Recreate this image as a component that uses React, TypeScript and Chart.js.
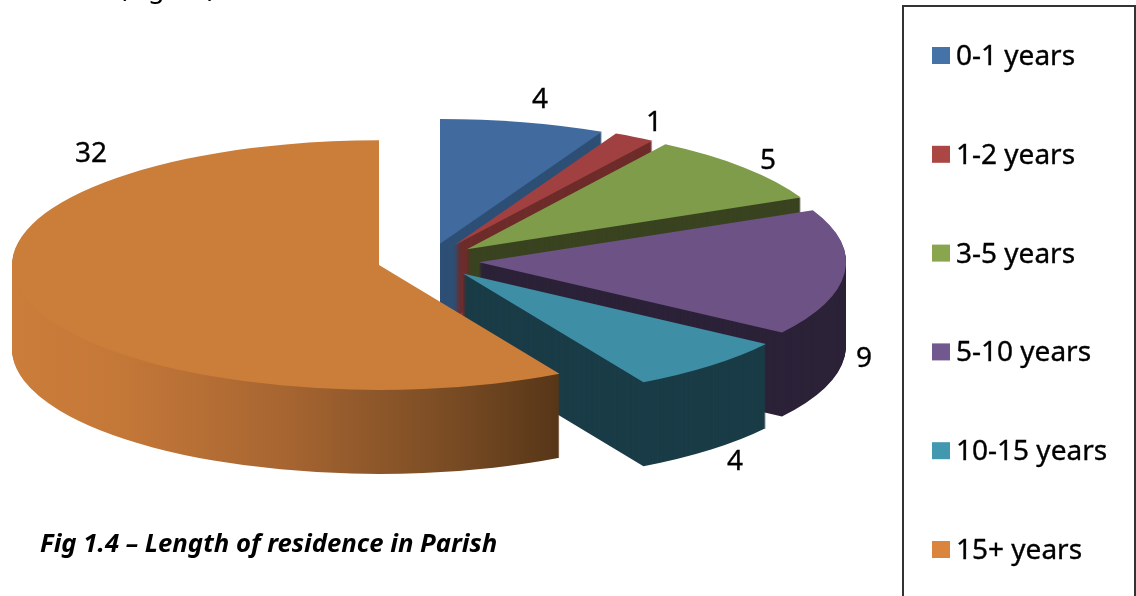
import React, { useEffect, useRef } from "react";
import { Chart, registerables } from "chart.js";

Chart.register(...registerables);

const CATEGORIES = ["0-1 years", "1-2 years", "3-5 years", "5-10 years", "10-15 years", "15+ years"];
const VALUES = [4, 1, 5, 9, 4, 32];
const TOP_COLORS = ["#416b9f", "#a04040", "#7f9c4a", "#6c5285", "#3e8ea6", "#cb7d3a"];
const LEGEND_COLORS = ["#4572a7", "#aa4643", "#89a54e", "#71588f", "#4198af", "#db843d"];
const WALL_COLORS = ["#2e4f75", "#6e2c2a", "#3a4320", "#2c2238", "#1a3c47", "#cb7d3a"];
const LABEL_POS = [[540, 100], [654, 123], [768, 161], [864, 359], [735, 462], [91, 154]];

const CX = 428.6, CY = 260.7, R = 367, K = 0.34, DEPTH = 84, EXPLODE = 51;
const FONT = '"Noto Sans", sans-serif';
const TEXT_SIZE = 28;

const pie3d = {
  id: "pie3d",
  beforeDatasetsDraw(chart: any) {
    const ctx = chart.ctx;
    const arcs = chart.getDatasetMeta(0).data;
    arcs.forEach((arc: any, i: number) => {
      const mid = (arc.startAngle + arc.endAngle) / 2;
      const ex = Math.cos(mid) * EXPLODE, ey = Math.sin(mid) * EXPLODE;
      const screenX = Math.round(CX + ex);
      const orig = arc.options;
      const paint = (depth: number, color: any) => {
        ctx.save();
        ctx.translate(screenX, CY + depth);
        ctx.scale(1, K);
        ctx.translate(0, ey);
        ctx.translate(-arc.x, -arc.y);
        arc.options = { ...orig, backgroundColor: color, borderWidth: 0 };
        arc.draw(ctx);
        arc.options = orig;
        ctx.restore();
      };
      let wall: any = WALL_COLORS[i];
      if (i === VALUES.length - 1) {
        const shift = arc.x - screenX;
        const g = ctx.createLinearGradient(12 + shift, 0, 558 + shift, 0);
        g.addColorStop(0, "#cb7d3a");
        g.addColorStop(0.2, "#c47838");
        g.addColorStop(0.5, "#a76531");
        g.addColorStop(0.8, "#7a4c24");
        g.addColorStop(1, "#573618");
        wall = g;
      }
      for (let d = DEPTH; d >= 1; d--) paint(d, wall);
      paint(0, TOP_COLORS[i]);
    });
    return false;
  },
  afterDraw(chart: any) {
    const ctx = chart.ctx;
    const heavyText = (s: string, x: number, y: number) => {
      ctx.strokeText(s, x, y);
      ctx.fillText(s, x, y);
    };
    ctx.save();
    ctx.fillStyle = "#000";
    ctx.strokeStyle = "#000";
    ctx.lineWidth = 0.35;
    ctx.textBaseline = "middle";
    ctx.font = `${TEXT_SIZE}px ${FONT}`;

    ctx.textAlign = "center";
    VALUES.forEach((v, i) => heavyText(String(v), LABEL_POS[i][0], LABEL_POS[i][1]));

    // legend rows
    ctx.textAlign = "left";
    CATEGORIES.forEach((label, i) => {
      const y = 55 + i * 98.8;
      ctx.fillStyle = LEGEND_COLORS[i];
      ctx.fillRect(932, y - 8, 18, 17);
      ctx.fillStyle = "#000";
      heavyText(label, 956, y + 2);
    });

    // legend frame
    ctx.strokeStyle = "#333";
    ctx.lineWidth = 2;
    ctx.strokeRect(903, 6, 232, 700);

    // caption and cropped page text
    ctx.font = `italic bold 25.7px ${FONT}`;
    ctx.fillText("Fig 1.4 \u2013 Length of residence in Parish", 40, 545);
    ctx.font = `27px ${FONT}`;
    ctx.textBaseline = "alphabetic";
    ctx.fillText("(Figure)", 119, -3);
    ctx.restore();
  },
};

export default function App() {
  const ref = useRef<HTMLCanvasElement>(null);
  useEffect(() => {
    document.body.style.margin = "0";
    document.body.style.background = "#fff";
    const chart = new Chart(ref.current!, {
      type: "pie",
      data: {
        labels: CATEGORIES,
        datasets: [{ data: VALUES, backgroundColor: TOP_COLORS, borderWidth: 0 }],
      },
      options: {
        responsive: false,
        animation: false,
        radius: R,
        plugins: { legend: { display: false }, tooltip: { enabled: false } },
      } as any,
      plugins: [pie3d],
    });
    return () => chart.destroy();
  }, []);
  return <canvas ref={ref} width={1136} height={596} style={{ display: "block", background: "#fff", filter: "blur(0.4px)" }} />;
}
